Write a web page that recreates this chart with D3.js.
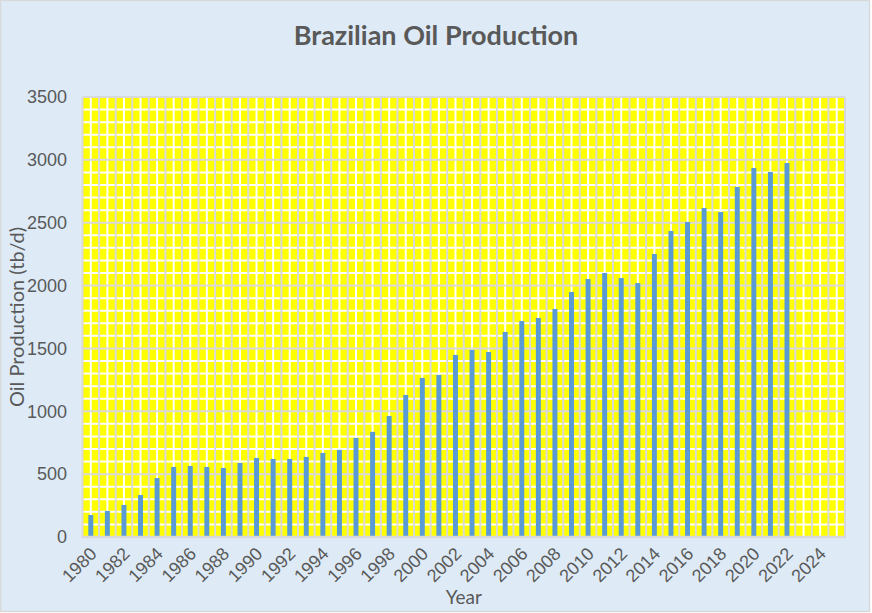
<!DOCTYPE html>
<html lang="en">
<head>
    <meta charset="UTF-8">
    <title>Brazilian Oil Production</title>
    <script src="https://d3js.org/d3.v7.min.js"></script>
    <style>
        html, body { margin: 0; padding: 0; background: #fff; }
        svg { display: block; font-family: 'Lato', 'Noto Sans', sans-serif; }
        .tick-label { fill: #595959; font-size: 18px; }
    </style>
</head>
<body>
<div id="chart"></div>
<script>
    // --- Data ---
    // Categories: 1980 .. 2025 (2023-2025 have no values)
    const years = d3.range(1980, 2026);
    // Oil production, thousand barrels per day
    const production = [
        175, 207, 255, 334, 469, 557, 565, 557, 549, 589,       // 1980-1989
        629, 621, 621, 637, 669, 693, 788, 836, 963, 1130,      // 1990-1999
        1265, 1289, 1448, 1488, 1472, 1631, 1718, 1742, 1814, 1949, // 2000-2009
        2052, 2100, 2060, 2020, 2251, 2434, 2506, 2617, 2585, 2784, // 2010-2019
        2935, 2904, 2975, null, null, null                      // 2020-2025
    ];
    const xTickLabels = d3.range(1980, 2025, 2);
    const yTicks = d3.range(0, 3501, 500);
    const yMinorTicks = d3.range(0, 3501, 100);

    const data = years.map((y, i) => ({ year: y, value: production[i] }));

    // --- Dimensions ---
    const W = 872, H = 613;
    const plot = { left: 82.5, right: 845, top: 97, bottom: 537 };

    const svg = d3.select("#chart").append("svg")
        .attr("width", W)
        .attr("height", H);

    // chart background + border
    svg.append("rect")
        .attr("x", 0.5).attr("y", 0.5)
        .attr("width", W - 3).attr("height", H - 2)
        .attr("fill", "#deebf7")
        .attr("stroke", "#d9d9d9")
        .attr("stroke-width", 1.5);

    // --- Scales ---
    const x = d3.scaleBand()
        .domain(years)
        .range([plot.left, plot.right])
        .padding(0);

    const y = d3.scaleLinear()
        .domain([0, 3500])
        .range([plot.bottom, plot.top]);

    // plot area fill
    svg.append("rect")
        .attr("x", plot.left).attr("y", plot.top)
        .attr("width", plot.right - plot.left)
        .attr("height", plot.bottom - plot.top)
        .attr("fill", "#ffff00");

    const grid = svg.append("g");

    // minor gridlines (white): every 100 and at category centres
    grid.selectAll(".hminor")
        .data(yMinorTicks.filter(d => d % 500 !== 0))
        .join("line")
        .attr("x1", plot.left).attr("x2", plot.right)
        .attr("y1", d => y(d)).attr("y2", d => y(d))
        .attr("stroke", "#ffffff").attr("stroke-width", 2);

    grid.selectAll(".vminor")
        .data(years)
        .join("line")
        .attr("x1", d => x(d) + x.bandwidth() / 2)
        .attr("x2", d => x(d) + x.bandwidth() / 2)
        .attr("y1", plot.top).attr("y2", plot.bottom)
        .attr("stroke", "#ffffff").attr("stroke-width", 2);

    // major gridlines (grey): every 500 and at category boundaries
    grid.selectAll(".hmajor")
        .data(yTicks)
        .join("line")
        .attr("x1", plot.left).attr("x2", plot.right)
        .attr("y1", d => y(d)).attr("y2", d => y(d))
        .attr("stroke", "#d9d9d9").attr("stroke-width", 2);

    const boundaries = years.map(d => x(d)).concat([plot.right]);
    grid.selectAll(".vmajor")
        .data(boundaries)
        .join("line")
        .attr("x1", d => d).attr("x2", d => d)
        .attr("y1", plot.top).attr("y2", plot.bottom)
        .attr("stroke", "#d9d9d9").attr("stroke-width", 2);

    // --- Bars ---
    const barW = x.bandwidth() * 0.3;
    svg.append("g")
        .selectAll("rect")
        .data(data.filter(d => d.value != null))
        .join("rect")
        .attr("x", d => x(d.year) + (x.bandwidth() - barW) / 2)
        .attr("y", d => y(d.value))
        .attr("width", barW)
        .attr("height", d => y(0) - y(d.value))
        .attr("fill", "#5b9bd5");

    // category axis line
    svg.append("line")
        .attr("x1", plot.left - 1).attr("x2", plot.right + 1)
        .attr("y1", y(0)).attr("y2", y(0))
        .attr("stroke", "#d9d9d9").attr("stroke-width", 2.5);

    // --- Y axis labels ---
    const yAxis = d3.axisLeft(y).tickValues(yTicks).tickFormat(d3.format("d"))
        .tickSize(0).tickPadding(0);
    const yg = svg.append("g")
        .attr("transform", `translate(${plot.left - 15.5},0)`)
        .call(yAxis);
    yg.select(".domain").remove();
    yg.selectAll("text").attr("class", "tick-label").attr("font-family", null).attr("font-size", null);

    // --- X axis labels (rotated) ---
    const xAxis = d3.axisBottom(x).tickValues(xTickLabels).tickSize(0).tickPadding(0);
    const xg = svg.append("g")
        .attr("transform", `translate(0,${plot.bottom})`)
        .call(xAxis);
    xg.select(".domain").remove();
    xg.selectAll("text")
        .attr("class", "tick-label")
        .attr("font-family", null).attr("font-size", null)
        .attr("text-anchor", "end")
        .attr("dy", null)
        .attr("transform", "translate(7,18) rotate(-45)");

    // --- Titles ---
    svg.append("text")
        .attr("x", 436).attr("y", 45)
        .attr("text-anchor", "middle")
        .attr("fill", "#595959")
        .attr("font-size", 27)
        .attr("font-weight", "bold")
        .text("Brazilian Oil Production");

    svg.append("text")
        .attr("transform", `translate(24,${(plot.top + plot.bottom) / 2}) rotate(-90)`)
        .attr("text-anchor", "middle")
        .attr("fill", "#595959")
        .attr("font-size", 20)
        .text("Oil Production (tb/d)");

    svg.append("text")
        .attr("x", (plot.left + plot.right) / 2).attr("y", 604)
        .attr("text-anchor", "middle")
        .attr("fill", "#595959")
        .attr("font-size", 19)
        .text("Year");
</script>
</body>
</html>
